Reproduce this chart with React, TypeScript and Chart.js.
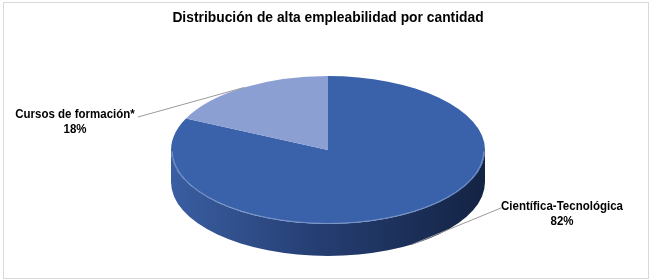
import React, { useEffect, useRef } from "react";
import { Chart, registerables } from "chart.js";

Chart.register(...registerables);

const TITLE = "Distribución de alta empleabilidad por cantidad";
const categories = ["Científica-Tecnológica", "Cursos de formación*"];
const values = [82, 18];
const percentLabels = ["82%", "18%"];
const topColors = ["#3a62ab", "#8b9fd3"];

const FONT = "'Liberation Sans', Arial, sans-serif";
const SX = 157 / 74; // horizontal stretch turning the circle into the ellipse
const DEPTH = 32;

function condensedText(ctx: any, text: string, x: number, y: number, font: string, squeeze: number) {
  ctx.save();
  ctx.font = font;
  ctx.textAlign = "center";
  ctx.textBaseline = "alphabetic";
  ctx.fillStyle = "#000";
  ctx.translate(x, y);
  ctx.scale(squeeze, 1);
  ctx.fillText(text, 0, 0);
  ctx.restore();
}

const pie3d = {
  id: "pie3d",
  beforeDatasetsDraw(chart: any) {
    const ctx = chart.ctx;
    const meta = chart.getDatasetMeta(0);
    const first = meta.data[0];
    if (!first) return;
    const cx = first.x;
    const cy = first.y;
    ctx.save();
    ctx.translate(cx, cy);
    ctx.scale(SX, 1);
    ctx.translate(-cx, -cy);
    meta.data.forEach((arc: any) => {
      const p = arc.getProps(["x", "y", "startAngle", "endAngle", "outerRadius"], true);
      const segs: [number, number][] = [];
      for (const k of [-2, -1, 0, 1]) {
        const lo = Math.max(p.startAngle, k * 2 * Math.PI);
        const hi = Math.min(p.endAngle, k * 2 * Math.PI + Math.PI);
        if (hi > lo) segs.push([lo, hi]);
      }
      segs.forEach(([a0, a1]) => {
        const r = p.outerRadius;
        const g = ctx.createLinearGradient(p.x - r, 0, p.x + r, 0);
        g.addColorStop(0, "#3a5ea2");
        g.addColorStop(0.45, "#263f74");
        g.addColorStop(1, "#132343");
        ctx.beginPath();
        ctx.arc(p.x, p.y, r, a0, a1);
        ctx.arc(p.x, p.y + DEPTH, r, a1, a0, true);
        ctx.closePath();
        ctx.fillStyle = g;
        ctx.fill();
      });
    });
  },
  afterDatasetsDraw(chart: any) {
    const ctx = chart.ctx;
    ctx.restore();
    const meta = chart.getDatasetMeta(0);
    const first = meta.data[0];
    if (!first) return;
    ctx.save();
    ctx.translate(first.x, first.y);
    ctx.scale(SX, 1);
    ctx.translate(-first.x, -first.y);
    ctx.beginPath();
    ctx.arc(first.x, first.y, first.outerRadius - 0.5, 0.02, Math.PI - 0.02);
    ctx.restore();
    ctx.save();
    ctx.strokeStyle = "rgba(200,210,235,0.45)";
    ctx.lineWidth = 1;
    ctx.stroke();
    ctx.restore();
  },
};

const labelPlugin = {
  id: "pieLabels",
  afterDraw(chart: any) {
    const ctx = chart.ctx;
    const meta = chart.getDatasetMeta(0);
    // title
    condensedText(ctx, TITLE, 328, 22, `bold 15px ${FONT}`, 0.922);
    const boxes = [
      { tx: 562, ty: 210, lx: 501, ly: 208 },
      { tx: 75, ty: 118, lx: 138, ly: 117 },
    ];
    ctx.save();
    meta.data.forEach((arc: any, i: number) => {
      const p = arc.getProps(["x", "y", "startAngle", "endAngle", "outerRadius"], true);
      const mid = (p.startAngle + p.endAngle) / 2;
      const ax = p.x + p.outerRadius * SX * Math.cos(mid);
      let ay = p.y + p.outerRadius * Math.sin(mid);
      if (Math.sin(mid) > 0) ay += DEPTH;
      const b = boxes[i];
      ctx.beginPath();
      ctx.moveTo(b.lx, b.ly);
      ctx.lineTo(ax, ay);
      ctx.strokeStyle = "#9a9a9a";
      ctx.lineWidth = 1;
      ctx.stroke();
      condensedText(ctx, categories[i], b.tx, b.ty, `bold 13px ${FONT}`, 0.885);
      condensedText(ctx, percentLabels[i], b.tx, b.ty + 15, `bold 13px ${FONT}`, 0.885);
    });
    ctx.strokeStyle = "#d9d9d9";
    ctx.lineWidth = 1;
    ctx.strokeRect(3.5, 2.5, 645, 276);
    ctx.restore();
  },
};

export default function App() {
  const ref = useRef<HTMLCanvasElement | null>(null);
  useEffect(() => {
    if (!ref.current) return;
    const chart = new Chart(ref.current, {
      type: "pie",
      data: {
        labels: categories,
        datasets: [
          {
            data: values,
            backgroundColor: topColors,
            borderWidth: 0,
            radius: 74,
          } as any,
        ],
      },
      options: {
        animation: false,
        responsive: false,
        maintainAspectRatio: false,
        layout: { padding: { left: 6, right: 0, top: 26, bottom: 6 } },
        plugins: {
          legend: { display: false },
          tooltip: { enabled: false },
          title: { display: false },
        },
      },
      plugins: [pie3d, labelPlugin],
    });
    return () => chart.destroy();
  }, []);
  return (
    <div style={{ position: "absolute", left: 0, top: 0, width: 650, height: 280, background: "#fff" }}>
      <canvas ref={ref} width={650} height={280} style={{ display: "block", width: 650, height: 280 }} />
    </div>
  );
}
